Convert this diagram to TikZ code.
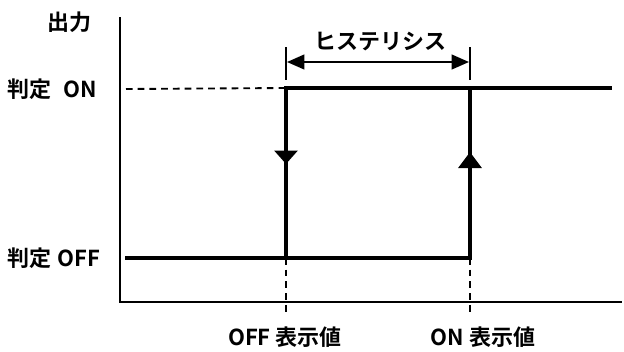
\documentclass[tikz,border=0pt]{standalone}
\usepackage{fontspec}
\setmainfont{Noto Sans CJK JP}[BoldFont={Noto Sans CJK JP Bold}]
\usetikzlibrary{arrows.meta}
\begin{document}
\begin{tikzpicture}[x=0.75pt,y=-0.75pt,
  lbl/.style={inner sep=0pt,font=\bfseries\fontsize{16.5pt}{17pt}\selectfont},
  axisline/.style={line width=1.5pt},
  curve/.style={line width=3pt,line join=miter},
  guide/.style={line width=1.4pt,dash pattern=on 5pt off 3.8pt},
  tick/.style={line width=1.1pt}]
\useasboundingbox (0,0) rectangle (624,351);
% coordinates
\coordinate (ytop) at (120,17);
\coordinate (orig) at (120,302);
\coordinate (xend) at (622,302);
\coordinate (offstart) at (125,258);
\coordinate (offbase) at (286,258);
\coordinate (offtop) at (286,88);
\coordinate (onbase) at (470,258);
\coordinate (ontop) at (470,88);
\coordinate (onend) at (612,88);
\coordinate (dashstart) at (126,89);
\coordinate (offdash) at (286,314);
\coordinate (ondash) at (470,314);
\coordinate (offtickT) at (286,47);
\coordinate (offtickB) at (286,80);
\coordinate (ontickT) at (470,47);
\coordinate (ontickB) at (470,80);
\coordinate (hl) at (287,62);
\coordinate (hr) at (469,62);
\coordinate (downtip) at (286,164);
\coordinate (uptip) at (470,152);
% labels
\node[lbl] (out) at (69,22) {出力};
\node[lbl,anchor=west] (jon) at (7,89) {判定\hspace{0.55em}ON};
\node[lbl,anchor=west] (joff) at (7,258) {判定\hspace{0.3em}OFF};
\node[lbl] (hys) at (380,41) {ヒステリシス};
\node[lbl] (offval) at (285,337) {OFF 表示値};
\node[lbl] (onval) at (483,337) {ON 表示値};
% axes
\draw[axisline] (ytop) -- (orig) -- (xend);
% guides
\draw[guide] (dashstart) -- (offtop);
\draw[guide] (offbase) -- (offdash);
\draw[guide] (onbase) -- (ondash);
% curve
\draw[curve] (offstart) -- (onbase) -- (ontop) -- (onend);
\draw[curve] (offbase) -- (offtop) -- (ontop);
\draw[line width=3pt,-{Triangle[width=17pt,length=10pt]}] (offtop) -- (downtip);
\draw[line width=3pt,-{Triangle[width=17pt,length=12pt]}] (onbase) -- (uptip);
% hysteresis
\draw[tick] (offtickT) -- (offtickB);
\draw[tick] (ontickT) -- (ontickB);
\draw[line width=1.6pt,{Triangle[width=11pt,length=13pt]}-{Triangle[width=11pt,length=13pt]}] (hl) -- (hr);
\end{tikzpicture}
\end{document}
